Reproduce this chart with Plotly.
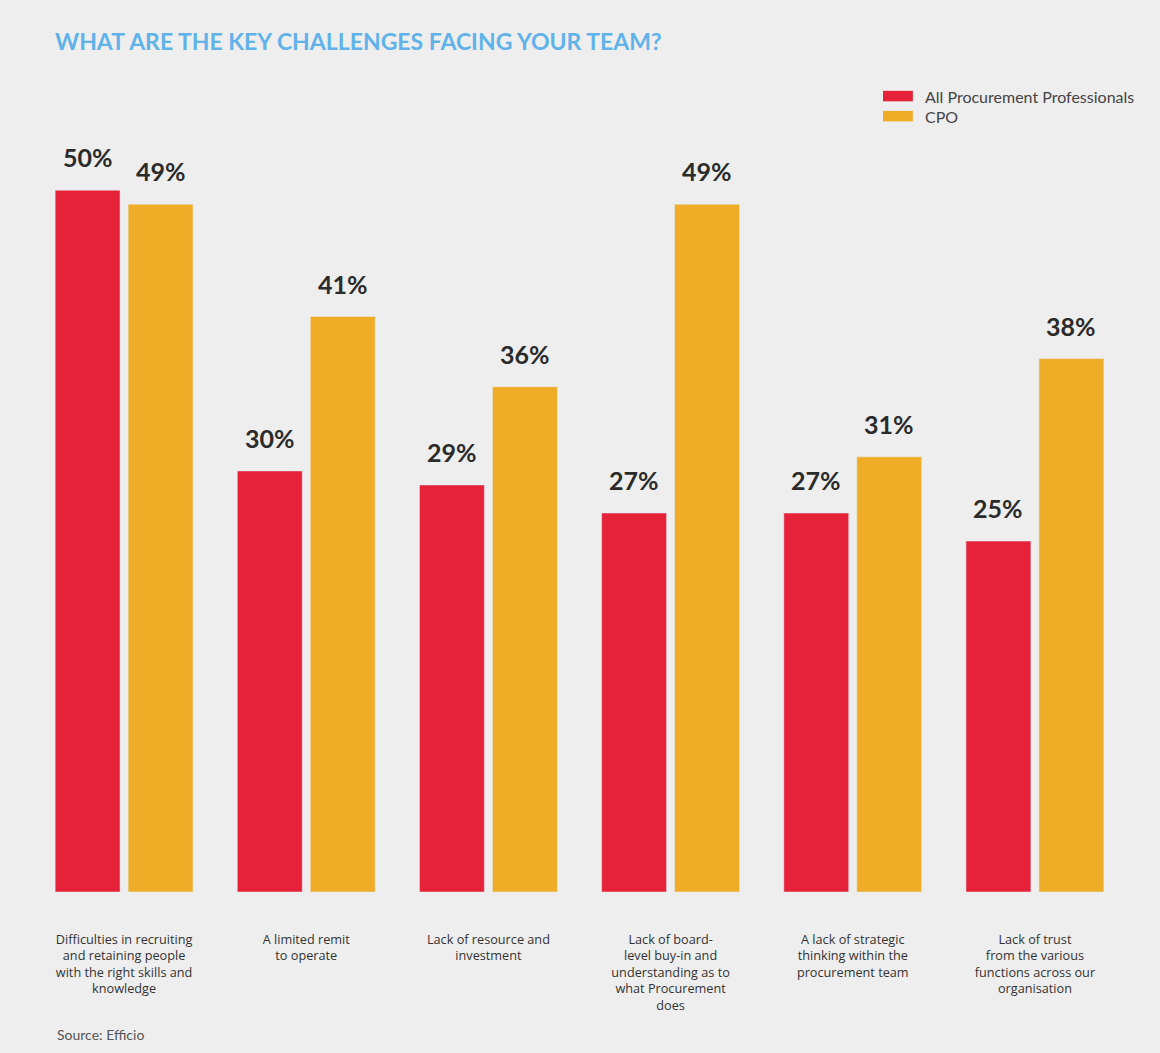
import plotly.graph_objects as go

categories = [
    "Difficulties in recruiting<br>and retaining people<br>with the right skills and<br>knowledge",
    "A limited remit<br>to operate",
    "Lack of resource and<br>investment",
    "Lack of board-<br>level buy-in and<br>understanding as to<br>what Procurement<br>does",
    "A lack of strategic<br>thinking within the<br>procurement team",
    "Lack of trust<br>from the various<br>functions across our<br>organisation",
]
all_procurement = [50, 30, 29, 27, 27, 25]
cpo = [49, 41, 36, 49, 31, 38]

RED = "#e6223a"
ORANGE = "#efad27"
BG = "#eeeeee"

fig = go.Figure(data=[
    go.Bar(name="All Procurement Professionals", x=categories, y=all_procurement, marker_color=RED),
    go.Bar(name="CPO", x=categories, y=cpo, marker_color=ORANGE),
])

# value labels sit well above the bars, so use annotations instead of bar text
for series, shift in ((all_procurement, -36.5), (cpo, 36.5)):
    for cat, val in zip(categories, series):
        fig.add_annotation(x=cat, y=val, text=f"{val}%", showarrow=False,
                           xshift=shift, yshift=33, yanchor="middle",
                           font=dict(family="Lato", size=25, color="#2b2b2b", weight="bold"))

# hand-made legend (wide flat swatches)
for i, (name, color) in enumerate((("All Procurement Professionals", RED), ("CPO", ORANGE))):
    yc = 1.031 - i * 0.026
    fig.add_shape(type="rect", xref="paper", yref="paper", x0=0.7777, x1=0.805,
                  y0=yc - 0.0068, y1=yc + 0.0068, fillcolor=color, line_width=0)
    fig.add_annotation(xref="paper", yref="paper", x=0.8145, y=yc, text=name, showarrow=False,
                       xanchor="left", yanchor="middle",
                       font=dict(family="Lato", size=16, color="#444444"))

fig.add_annotation(xref="paper", yref="paper", x=0.020, y=-0.185, text="Source: Efficio",
                   showarrow=False, xanchor="left", yanchor="middle",
                   font=dict(family="Lato", size=14, color="#555555"))

fig.update_layout(
    width=1160, height=1053,
    margin=dict(l=33, r=34, t=120, b=161),
    paper_bgcolor=BG, plot_bgcolor=BG,
    barmode="group", bargap=0.199, bargroupgap=0.11,
    showlegend=False,
    title=dict(text="<b>WHAT ARE THE KEY CHALLENGES FACING YOUR TEAM?</b>",
               x=0.0474, xanchor="left", y=0.96, yanchor="middle",
               font=dict(family="Lato", size=23, color="#62b2ea")),
    xaxis=dict(showgrid=False, zeroline=False, showline=False, ticks="",
               ticklabelstandoff=38,
               tickfont=dict(family="Open Sans", size=12.7, color="#333333")),
    yaxis=dict(range=[0, 55], visible=False),
)

fig.write_html("out.html", config={"displayModeBar": False})

# drop the browser's default body margin so the figure fills the window
with open("out.html", encoding="utf-8") as f:
    page = f.read()
page = page.replace("<head>", "<head><style>body{margin:0;overflow:hidden}</style>", 1)
with open("out.html", "w", encoding="utf-8") as f:
    f.write(page)
